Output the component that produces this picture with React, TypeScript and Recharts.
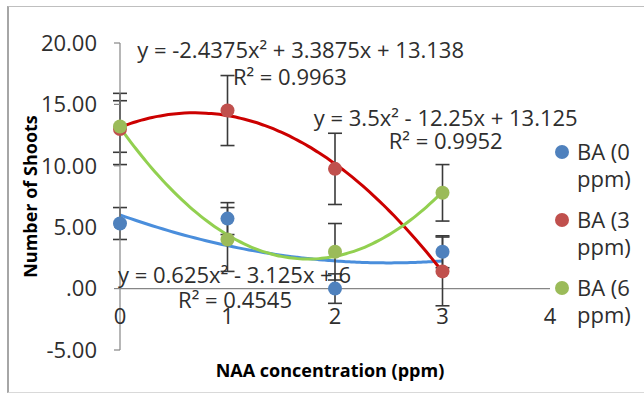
import {
  ComposedChart,
  Scatter,
  Line,
  XAxis,
  YAxis,
  ErrorBar,
  ReferenceLine,
  ReferenceDot,
  Legend,
} from "recharts";

const FONT = '"Open Sans", sans-serif';
const TEXT = "#2e2e2e";
const AXIS = "#868686";
const FS = 22;

// NAA concentration (ppm)
const naa = [0, 1, 2, 3];
const seriesNames = ["BA (0 ppm)", "BA (3 ppm)", "BA (6 ppm)"];

// mean number of shoots + error
const ba0 = [5.3, 5.7, 0, 3.0];
const ba0Err = [1.3, 1.3, 1.2, 1.3];
const ba3 = [13.0, 14.5, 9.75, 1.4];
const ba3Err = [2.9, 2.85, 2.9, 2.8];
const ba6 = [13.2, 4.0, 3.0, 7.8];
const ba6Err = [2.1, 2.6, 2.3, 2.3];

// polynomial trendlines, y = a·x² + b·x + c  -> [a, b, c] as printed on the chart
const ba0Fit = [0.625, -3.125, 6];
const ba3Fit = [-2.4375, 3.3875, 13.138];
const ba6Fit = [3.5, -12.25, 13.125];

const xTicks = [0, 1, 2, 3, 4];
const yTicks = [-5, 0, 5, 10, 15, 20];

const MARKER = ["#4F81BD", "#C0504D", "#9BBB59"];
const TREND = ["#4A8EDC", "#CC0000", "#92D050"];

const points = (ys: number[], errs: number[]) =>
  naa.map((x, i) => ({ x, y: ys[i], err: errs[i] }));

// trendline drawn over the fitted range 0..3
const fitXs = Array.from({ length: 61 }, (_, i) => i * 0.05);
const trend = (c: number[]) => fitXs.map((x) => ({ x, y: c[0] * x * x + c[1] * x + c[2] }));

const scatterSets = [points(ba0, ba0Err), points(ba3, ba3Err), points(ba6, ba6Err)];
const trendSets = [trend(ba0Fit), trend(ba3Fit), trend(ba6Fit)];

// trendline equation boxes, placed in data units
const fitLabels = [
  { text: "y = -2.4375x² + 3.3875x + 13.138", x: 1.68, y: 19.4 },
  { text: "R² = 0.9963", x: 1.58, y: 17.2 },
  { text: "y = 3.5x² - 12.25x + 13.125", x: 3.03, y: 13.9 },
  { text: "R² = 0.9952", x: 3.03, y: 12.0 },
  { text: "y = 0.625x² - 3.125x + 6", x: 1.065, y: 1.06 },
  { text: "R² = 0.4545", x: 1.07, y: -0.98 },
];

// eslint-disable-next-line @typescript-eslint/no-explicit-any
function renderLegend({ payload }: any) {
  const items = (payload || []).filter((p: any) => seriesNames.includes(p.value));
  return (
    <div style={{ fontFamily: FONT, fontSize: FS, color: TEXT, lineHeight: "27px" }}>
      {items.map((p: any, i: number) => (
        <div key={i} style={{ display: "flex", alignItems: "flex-start", marginBottom: 14 }}>
          <span
            style={{
              width: 14,
              height: 14,
              borderRadius: "50%",
              background: p.color,
              marginTop: 7,
              marginRight: 8,
              flex: "none",
            }}
          />
          <span style={{ width: 62 }}>{p.value}</span>
        </div>
      ))}
    </div>
  );
}

export default function App() {
  return (
    <div
      style={{
        position: "absolute",
        left: 7,
        top: 6,
        width: 637,
        height: 387,
        boxSizing: "border-box",
        borderLeft: "2px solid #a6a6a6",
        borderTop: "1px solid #bfbfbf",
        borderBottom: "1px solid #d9d9d9",
        background: "#fff",
      }}
    >
      <ComposedChart width={635} height={385} margin={{ top: 36, right: 94, bottom: 0, left: 0 }}>
        <XAxis
          dataKey="x"
          type="number"
          domain={[0, 4]}
          ticks={xTicks}
          tick={false}
          axisLine={false}
          tickLine={false}
          height={42}
          label={{
            content: ({ viewBox }: any) => (
              <text
                x={viewBox.x + viewBox.width / 2 - 5}
                y={viewBox.y + 20}
                textAnchor="middle"
                dominantBaseline="central"
                fontFamily={FONT}
                fontSize={18}
                fontWeight="bold"
                fill="#000"
              >
                NAA concentration (ppm)
              </text>
            ),
          }}
        />
        <YAxis
          type="number"
          domain={[-5, 20]}
          ticks={yTicks}
          interval={0}
          width={111}
          tickSize={6}
          tickMargin={17}
          axisLine={{ stroke: AXIS, strokeWidth: 1.2 }}
          tickLine={{ stroke: AXIS, strokeWidth: 1.2 }}
          tick={{ fill: TEXT, fontSize: FS, fontFamily: FONT }}
          tickFormatter={(v: number) => (v === 0 ? ".00" : v.toFixed(2))}
          label={{
            content: ({ viewBox }: any) => {
              const cx = viewBox.x + 21;
              const cy = viewBox.y + viewBox.height / 2;
              return (
                <text
                  x={cx}
                  y={cy}
                  transform={`rotate(-90 ${cx} ${cy})`}
                  textAnchor="middle"
                  dominantBaseline="central"
                  fontFamily={FONT}
                  fontSize={18}
                  fontWeight="bold"
                  fill="#000"
                >
                  Number of Shoots
                </text>
              );
            },
          }}
        />
        <ReferenceLine y={0} stroke={AXIS} strokeWidth={1.2} />
        {xTicks.map((t) => (
          <ReferenceDot
            key={`xt${t}`}
            x={t}
            y={0}
            r={0}
            fill="none"
            stroke="none"
            ifOverflow="visible"
            label={{ value: String(t), position: "bottom", offset: 20, fill: TEXT, fontSize: FS, fontFamily: FONT }}
          />
        ))}

        {trendSets.map((d, i) => (
          <Line
            key={`tr${i}`}
            data={d}
            dataKey="y"
            type="monotone"
            stroke={TREND[i]}
            strokeWidth={3}
            dot={false}
            activeDot={false}
            legendType="none"
            isAnimationActive={false}
          />
        ))}

        {scatterSets.map((d, i) => (
          <Scatter
            key={`sc${i}`}
            name={seriesNames[i]}
            data={d}
            dataKey="y"
            fill={MARKER[i]}
            isAnimationActive={false}
            shape={(p: any) => <circle cx={p.cx} cy={p.cy} r={7} fill={MARKER[i]} />}
          >
            <ErrorBar dataKey="err" direction="y" width={7} stroke="#3a3a3a" strokeWidth={1.6} />
          </Scatter>
        ))}

        {fitLabels.map((l, i) => (
          <ReferenceDot
            key={`fl${i}`}
            x={l.x}
            y={l.y}
            r={0}
            fill="none"
            stroke="none"
            ifOverflow="visible"
            label={{ value: l.text, position: "center", fill: TEXT, fontSize: FS, fontFamily: FONT }}
          />
        ))}

        <Legend
          layout="horizontal"
          verticalAlign="middle"
          align="center"
          wrapperStyle={{ left: 546, top: 131, width: 92 }}
          content={renderLegend}
        />
      </ComposedChart>
    </div>
  );
}
